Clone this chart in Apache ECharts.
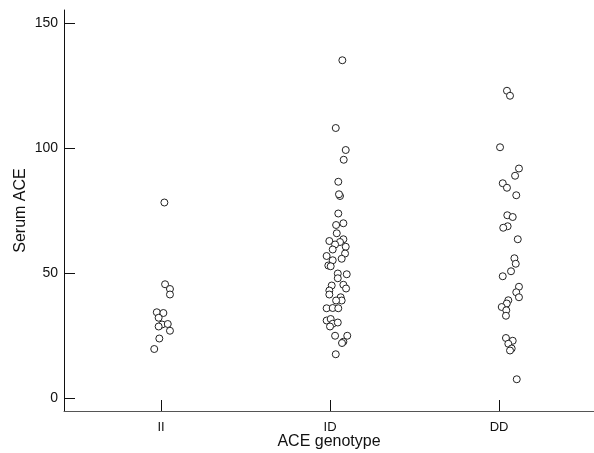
<!DOCTYPE html>
<html>
<head>
<meta charset="utf-8">
<script src="https://cdn.jsdelivr.net/npm/echarts@6/dist/echarts.min.js"></script>
<style>
  html, body { margin: 0; padding: 0; background: #fff; }
  #chart { width: 594px; height: 453px; }
</style>
</head>
<body>
<div id="chart"></div>
<script>
const categories = ['II', 'ID', 'DD'];
const yTicks = [0, 50, 100, 150];

// serum ACE per subject, with the horizontal jitter (in category units)
const iiValues = [78.2, 45.5, 43.6, 41.4, 34.3, 34.0, 32.1, 29.4, 28.6, 29.6, 26.9, 23.8, 19.6];
const iiJitter = [0.020, 0.024, 0.053, 0.053, -0.025, 0.014, -0.014, 0.006, -0.014, 0.040, 0.053, -0.010, -0.040];

const idValues = [
    135.1, 108.0, 99.2, 95.3, 86.5, 80.8, 81.5, 73.8, 69.2, 69.9,
    65.9, 63.5, 62.8, 62.4, 61.4, 60.5, 59.4, 57.8, 56.8, 55.7,
    55.1, 53.0, 52.7, 49.8, 49.5, 47.9, 45.0, 45.3, 43.8, 43.0,
    41.4, 40.3, 39.0, 39.0, 35.9, 36.0, 35.9, 31.0, 31.6, 29.7,
    28.6, 30.2, 24.9, 24.9, 22.5, 22.0, 17.5
];
const idJitter = [
    0.073, 0.034, 0.093, 0.081, 0.049, 0.059, 0.053, 0.049, 0.036, 0.079,
    0.040, 0.079, -0.004, 0.059, 0.030, 0.093, 0.016, 0.089, -0.020, 0.069,
    0.016, -0.010, 0.004, 0.046, 0.099, 0.046, 0.010, 0.079, 0.095, -0.004,
    -0.004, 0.063, 0.069, 0.036, -0.020, 0.016, 0.049, -0.020, 0.004, 0.016,
    0.000, 0.046, 0.030, 0.102, 0.079, 0.071, 0.034
];

const ddValues = [
    122.9, 120.9, 100.3, 91.8, 88.9, 85.9, 84.1, 81.1, 73.1, 72.4,
    68.7, 68.1, 63.5, 55.9, 53.7, 50.7, 48.7, 44.5, 42.3, 40.3,
    39.1, 37.8, 36.4, 35.1, 32.9, 24.0, 22.9, 21.7, 19.8, 19.0, 7.5
];
const ddJitter = [
    0.047, 0.065, 0.006, 0.118, 0.095, 0.022, 0.047, 0.102, 0.049, 0.081,
    0.051, 0.025, 0.111, 0.091, 0.099, 0.071, 0.022, 0.118, 0.102, 0.118,
    0.055, 0.046, 0.016, 0.043, 0.041, 0.041, 0.081, 0.055, 0.075, 0.065, 0.105
];

function points(catIndex, values, jitter) {
    return values.map((v, i) => [catIndex + 1 + jitter[i], v]);
}

const font = 'Liberation Sans, Arial, Helvetica, sans-serif';
const symbolStyle = {
    type: 'scatter',
    symbol: 'circle',
    symbolSize: 7,
    itemStyle: { color: '#fff', borderColor: '#222', borderWidth: 1, opacity: 1 },
    emphasis: { disabled: true },
    silent: true
};

let myChart = echarts.init(document.getElementById('chart'));
myChart.setOption({
    animation: false,
    backgroundColor: '#fff',
    grid: { left: 64, right: 0, top: 10, bottom: 42, containLabel: false, outerBoundsMode: 'none' },
    xAxis: {
        type: 'value',
        min: 0.426,
        max: 3.562,
        name: 'ACE genotype',
        nameLocation: 'middle',
        nameGap: 23,
        nameMoveOverlap: false,
        nameTextStyle: { fontFamily: font, fontSize: 16, color: '#111' },
        splitLine: { show: false },
        axisLine: { onZero: false, lineStyle: { color: '#555', width: 1 } },
        axisTick: {
            inside: true,
            length: 11,
            customValues: [1, 2, 3],
            lineStyle: { color: '#111' }
        },
        axisLabel: {
            customValues: [1, 2, 3],
            margin: 10,
            fontFamily: font,
            fontSize: 13,
            color: '#111',
            formatter(val) {
                return categories[Math.round(val) - 1];
            }
        }
    },
    yAxis: {
        type: 'value',
        min: -5.2,
        max: 155.2,
        name: 'Serum ACE',
        nameLocation: 'middle',
        nameRotate: 90,
        nameGap: 35,
        nameMoveOverlap: false,
        nameTextStyle: { fontFamily: font, fontSize: 16, color: '#111' },
        splitLine: { show: false },
        axisLine: { show: true, onZero: false, lineStyle: { color: '#111', width: 1 } },
        axisTick: {
            inside: true,
            length: 11,
            customValues: yTicks,
            lineStyle: { color: '#111' }
        },
        axisLabel: {
            customValues: yTicks,
            margin: 6,
            fontFamily: font,
            fontSize: 14,
            color: '#111'
        }
    },
    series: [
        { ...symbolStyle, name: categories[0], data: points(0, iiValues, iiJitter) },
        { ...symbolStyle, name: categories[1], data: points(1, idValues, idJitter) },
        { ...symbolStyle, name: categories[2], data: points(2, ddValues, ddJitter) }
    ]
});
</script>
</body>
</html>
